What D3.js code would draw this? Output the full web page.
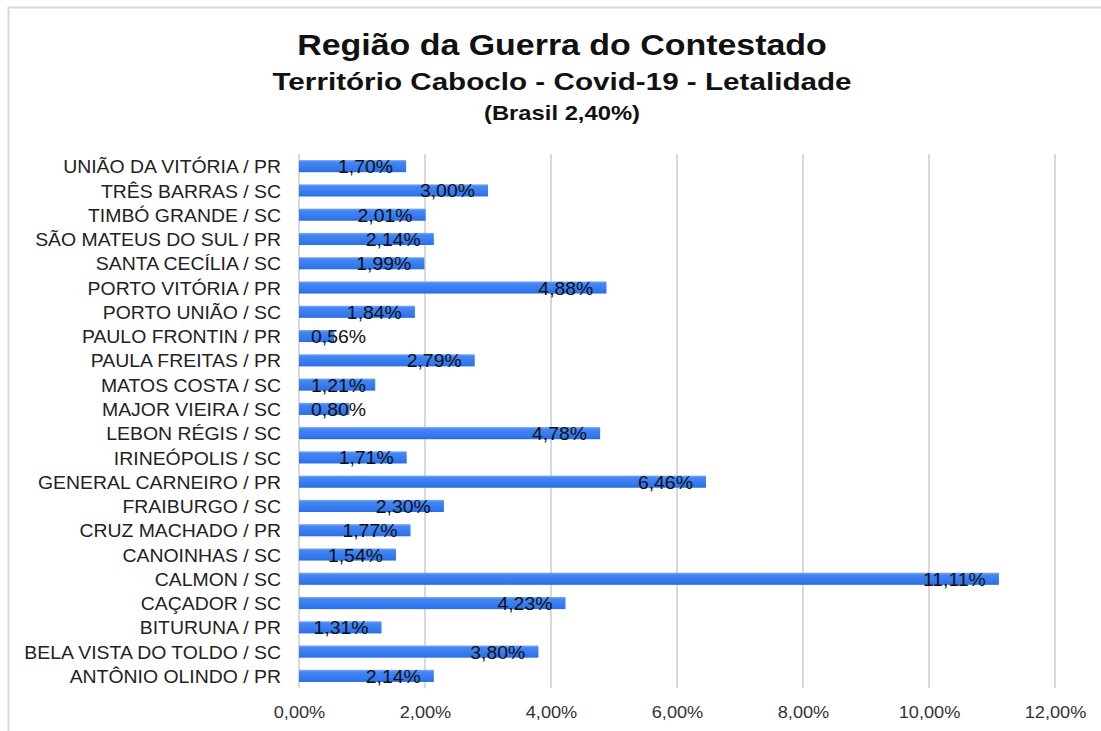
<!DOCTYPE html>
<html><head><meta charset="utf-8">
<script src="https://cdn.jsdelivr.net/npm/d3@7"></script>
<style>body{margin:0;background:#fff}svg{display:block}text{font-family:"Liberation Sans",Arial,sans-serif}</style>
</head><body>
<svg id="c" width="1101" height="731"></svg>
<script>
const categories = ["UNIÃO DA VITÓRIA / PR","TRÊS BARRAS / SC","TIMBÓ GRANDE / SC","SÃO MATEUS DO SUL / PR","SANTA CECÍLIA / SC","PORTO VITÓRIA / PR","PORTO UNIÃO / SC","PAULO FRONTIN / PR","PAULA FREITAS / PR","MATOS COSTA / SC","MAJOR VIEIRA / SC","LEBON RÉGIS / SC","IRINEÓPOLIS / SC","GENERAL CARNEIRO / PR","FRAIBURGO / SC","CRUZ MACHADO / PR","CANOINHAS / SC","CALMON / SC","CAÇADOR / SC","BITURUNA / PR","BELA VISTA DO TOLDO / SC","ANTÔNIO OLINDO / PR"];
const values = [1.70,3.00,2.01,2.14,1.99,4.88,1.84,0.56,2.79,1.21,0.80,4.78,1.71,6.46,2.30,1.77,1.54,11.11,4.23,1.31,3.80,2.14];
const tickValues = [0,2,4,6,8,10,12];
const titles = ["Região da Guerra do Contestado","Território Caboclo - Covid-19 - Letalidade","(Brasil 2,40%)"];

const fmt = v => d3.format(".2f")(v).replace(".", ",") + "%";
const svg = d3.select("#c");
const defs = svg.append("defs");
const g = defs.append("linearGradient").attr("id","bg").attr("x1",0).attr("y1",0).attr("x2",0).attr("y2",1);
g.append("stop").attr("offset","0%").attr("stop-color","#7aaaf8");
g.append("stop").attr("offset","18%").attr("stop-color","#4586f2");
g.append("stop").attr("offset","80%").attr("stop-color","#3176ec");
g.append("stop").attr("offset","100%").attr("stop-color","#2b6ce2");

// outer border
svg.append("rect").attr("x",8.5).attr("y",7.5).attr("width",1110).attr("height",740)
  .attr("fill","#fff").attr("stroke","#d9d9d9").attr("stroke-width",2);

const x = d3.scaleLinear().domain([0,12]).range([299,1055]);
const y = d3.scaleBand().domain(categories).range([154,688]).paddingInner(0.5).paddingOuter(0.25);

// gridlines
svg.append("g").selectAll("line").data(tickValues).join("line")
  .attr("x1",d=>x(d)).attr("x2",d=>x(d)).attr("y1",154).attr("y2",688)
  .attr("stroke","#d9d9d9").attr("stroke-width",2);

// x axis labels
const xa = svg.append("g").attr("transform","translate(0,712)")
  .call(d3.axisBottom(x).tickValues(tickValues).tickFormat(fmt).tickSize(0).tickPadding(0));
xa.select(".domain").remove();
xa.selectAll("text").attr("font-size",17).attr("fill","#333").attr("dy","0.35em")
  .attr("font-family","Liberation Sans, Arial, sans-serif").attr("transform","scale(1.07,1)");

// y axis labels
const ya = svg.append("g").attr("transform","translate(281,1.5)")
  .call(d3.axisLeft(y).tickSize(0).tickPadding(0));
ya.select(".domain").remove();
ya.selectAll("text").attr("font-size",17.5).attr("fill","#222")
  .attr("font-family","Liberation Sans, Arial, sans-serif").attr("transform","scale(1.11,1)");

// bars
svg.append("g").selectAll("rect").data(values).join("rect")
  .attr("x",x(0)).attr("y",(d,i)=>y(categories[i]))
  .attr("width",d=>x(d)-x(0)).attr("height",y.bandwidth())
  .attr("fill","url(#bg)");

// data labels
const sx = 1.11;
const lab = svg.append("g").selectAll("text").data(values).join("text")
  .attr("x",0).attr("dy","0.4em")
  .attr("font-size",17.5).attr("fill","#111").text(fmt);
lab.each(function(d,i){
  const w = this.getComputedTextLength()*sx;
  const start = Math.max(x(0)+12, x(d)-13-w);
  d3.select(this).attr("transform",`translate(${start},${y(categories[i])+y.bandwidth()/2}) scale(${sx},1)`);
});

// titles
const tt = [[titles[0],55,29,1.17],[titles[1],90,24.5,1.21],[titles[2],120,19.5,1.22]];
tt.forEach(([t,yy,fs,s])=>{
  svg.append("text").attr("transform",`translate(562,${yy}) scale(${s},1)`).attr("text-anchor","middle")
    .attr("font-weight","bold").attr("font-size",fs).attr("fill","#111").text(t);
});
</script>
</body></html>
